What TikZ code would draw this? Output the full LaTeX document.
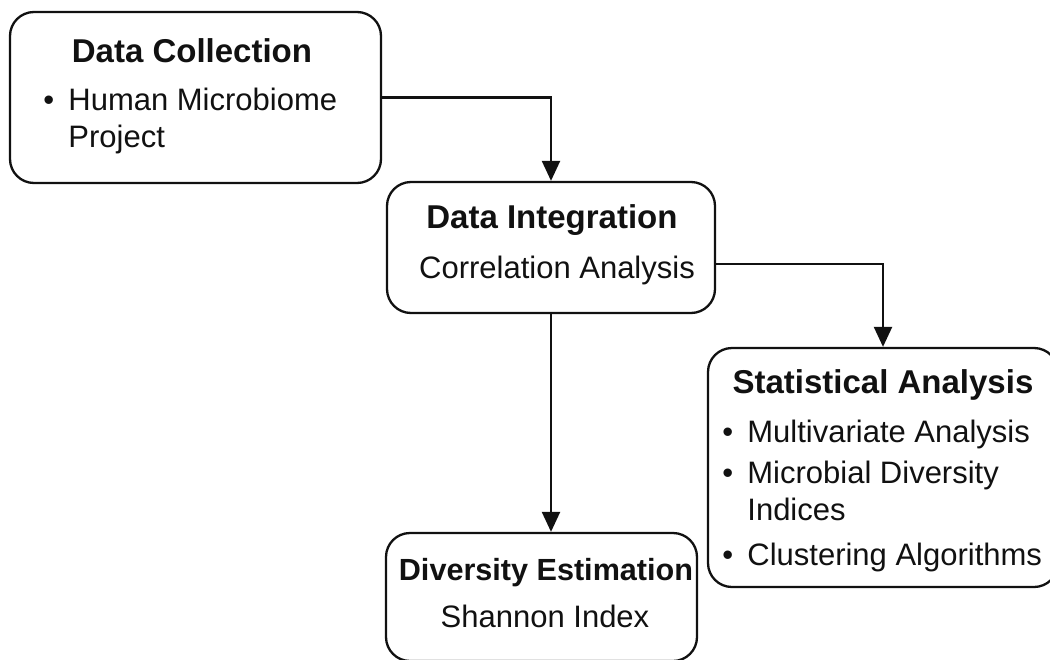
\documentclass[tikz,border=0pt]{standalone}
\usepackage{fontspec}
\setmainfont{Liberation Sans}
\usetikzlibrary{arrows.meta,calc,positioning}
\definecolor{ink}{HTML}{111111}
\tikzset{
  box/.style={draw=ink,line width=1.15pt,rounded corners=12pt,fill=white,inner sep=0pt},
  ttl/.style={font=\fontsize{16.5}{20}\selectfont\bfseries,ink,anchor=base,inner sep=0pt},
  ctxt/.style={font=\fontsize{15.5}{18}\selectfont,ink,anchor=base,inner sep=0pt},
  txt/.style={font=\fontsize{15.5}{18}\selectfont,ink,anchor=base west,inner sep=0pt},
  flow/.style={ink,line width=1.15pt,-{Triangle[length=10pt,width=9pt]}},
}
\begin{document}
\begin{tikzpicture}[x=0.5pt,y=-0.5pt]
  \useasboundingbox[fill=white] (0,0) rectangle (1050,659);
  % ---------- boxes ----------
  \node[box,minimum width=185.5pt,minimum height=85.5pt] (coll) at (195.5,97.5) {};
  \node[box,minimum width=164pt,minimum height=65.5pt] (integ) at (551,247.5) {};
  \node[box,minimum width=175pt,minimum height=119.5pt] (stat) at (883,467.5) {};
  \node[box,minimum width=155.5pt,minimum height=64pt] (divest) at (541.5,597) {};
  % ---------- data collection ----------
  \node[ttl] (collT) at (192,62) {Data Collection};
  \node[txt] (collB) at (43,110) {•};
  \node[txt] (collA) at (68,110) {Human Microbiome};
  \node[txt] (collA2) at (68,147) {Project};
  % ---------- data integration ----------
  \node[ttl] (integT) at (552,228) {Data Integration};
  \node[ctxt] (integA) at (557,278) {Correlation Analysis};
  % ---------- statistical analysis ----------
  \node[ttl] (statT) at (883,393) {Statistical Analysis};
  \node[txt] (statB1) at (722,442) {•};
  \node[txt] (statA) at (747,442) {Multivariate Analysis};
  \node[txt] (statB2) at (722,483) {•};
  \node[txt] (statB) at (747,483) {Microbial Diversity};
  \node[txt] (statB') at (747,520) {Indices};
  \node[txt] (statB3) at (722,565) {•};
  \node[txt] (statC) at (747,565) {Clustering Algorithms};
  % ---------- diversity estimation ----------
  \node[ttl,font=\fontsize{15.3}{18}\selectfont\bfseries] (divT) at (546,580) {Diversity Estimation};
  \node[ctxt] (divA) at (545,627) {Shannon Index};
  % ---------- connectors ----------
  \draw[flow] (coll.east) -| (integ.north);
  \draw[flow] ($(integ.east)+(0,16.5)$) -| (stat.north);
  \draw[flow] (integ.south) -- (integ.south |- divest.north);
\end{tikzpicture}
\end{document}
